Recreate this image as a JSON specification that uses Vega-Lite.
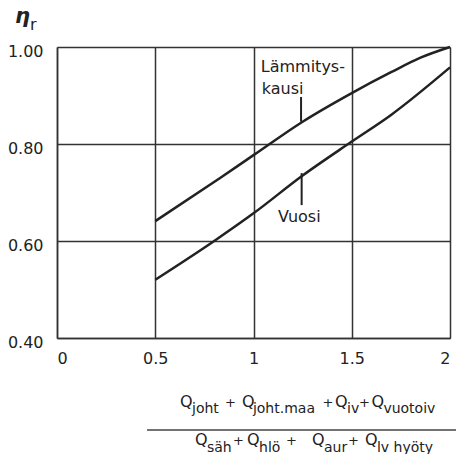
{
  "$schema": "https://vega.github.io/schema/vega-lite/v6.json",
  "width": 393,
  "height": 291,
  "autosize": "none",
  "padding": {"left": 57, "top": 47, "right": 6, "bottom": 116},
  "background": "white",
  "config": {
    "view": {"stroke": null},
    "axis": {
      "labelFont": "DejaVu Sans",
      "labelFontSize": 16,
      "labelColor": "#222",
      "ticks": false,
      "domainColor": "#333",
      "domainWidth": 1.5,
      "gridColor": "#333",
      "gridWidth": 1.5,
      "gridOpacity": 1,
      "title": null
    },
    "text": {"font": "DejaVu Sans", "color": "#222"}
  },
  "datasets": {
    "curves": [
      {"series": "Lämmityskausi", "x": 0.5, "y": 0.641},
      {"series": "Lämmityskausi", "x": 0.83, "y": 0.73},
      {"series": "Lämmityskausi", "x": 1.0, "y": 0.777},
      {"series": "Lämmityskausi", "x": 1.25, "y": 0.846},
      {"series": "Lämmityskausi", "x": 1.5, "y": 0.905},
      {"series": "Lämmityskausi", "x": 1.7, "y": 0.948},
      {"series": "Lämmityskausi", "x": 1.85, "y": 0.978},
      {"series": "Lämmityskausi", "x": 2.0, "y": 1.0},
      {"series": "Vuosi", "x": 0.5, "y": 0.52},
      {"series": "Vuosi", "x": 0.8, "y": 0.6},
      {"series": "Vuosi", "x": 1.0, "y": 0.657},
      {"series": "Vuosi", "x": 1.25, "y": 0.735},
      {"series": "Vuosi", "x": 1.5, "y": 0.805},
      {"series": "Vuosi", "x": 1.7, "y": 0.86},
      {"series": "Vuosi", "x": 2.0, "y": 0.958}
    ],
    "notes": [
      {"text": "Lämmitys-", "x": 1.037, "y": 0.949},
      {"text": "kausi", "x": 1.042, "y": 0.903},
      {"text": "Vuosi", "x": 1.125, "y": 0.64}
    ],
    "leaders": [
      {"x": 1.242, "y": 0.897, "y2": 0.846},
      {"x": 1.245, "y": 0.74, "y2": 0.674}
    ],
    "fracline": [
      {"x": 0.458, "x2": 2.1, "y": 0.2103}
    ],
    "symbol": [
      {"role": "main", "text": "η", "x": -0.214, "y": 1.049},
      {"role": "sub", "text": "r", "x": -0.137, "y": 1.035}
    ],
    "fraction": [
      {"role": "main", "text": "Q", "x": 0.626, "y": 0.2577},
      {"role": "sub", "text": "joht", "x": 0.687, "y": 0.2454},
      {"role": "op", "text": "+", "x": 0.883, "y": 0.2577},
      {"role": "main", "text": "Q", "x": 0.941, "y": 0.2577},
      {"role": "sub", "text": "joht.maa", "x": 0.997, "y": 0.2454},
      {"role": "op", "text": "+", "x": 1.379, "y": 0.2577},
      {"role": "main", "text": "Q", "x": 1.415, "y": 0.2577},
      {"role": "sub", "text": "iv", "x": 1.476, "y": 0.2454},
      {"role": "op", "text": "+", "x": 1.565, "y": 0.2577},
      {"role": "main", "text": "Q", "x": 1.6, "y": 0.2577},
      {"role": "sub", "text": "vuotoiv", "x": 1.661, "y": 0.2454},
      {"role": "main", "text": "Q", "x": 0.702, "y": 0.1794},
      {"role": "sub", "text": "säh", "x": 0.763, "y": 0.165},
      {"role": "op", "text": "+", "x": 0.924, "y": 0.1794},
      {"role": "main", "text": "Q", "x": 0.967, "y": 0.1794},
      {"role": "sub", "text": "hlö", "x": 1.028, "y": 0.165},
      {"role": "op", "text": "+", "x": 1.193, "y": 0.1794},
      {"role": "main", "text": "Q", "x": 1.298, "y": 0.1794},
      {"role": "sub", "text": "aur", "x": 1.359, "y": 0.165},
      {"role": "op", "text": "+", "x": 1.509, "y": 0.1794},
      {"role": "main", "text": "Q", "x": 1.567, "y": 0.1794},
      {"role": "sub", "text": "lv hyöty", "x": 1.628, "y": 0.165}
    ]
  },
  "layer": [
    {
      "data": {"name": "curves"},
      "mark": {"type": "line", "interpolate": "monotone", "color": "#222", "strokeWidth": 2.5},
      "encoding": {
        "x": {
          "field": "x", "type": "quantitative",
          "scale": {"domain": [0, 2], "nice": false, "zero": false},
          "axis": {"values": [0, 0.5, 1, 1.5, 2], "format": "~g", "labelPadding": 12, "grid": true}
        },
        "y": {
          "field": "y", "type": "quantitative",
          "scale": {"domain": [0.4, 1.0], "nice": false, "zero": false},
          "axis": {"values": [0.4, 0.6, 0.8, 1.0], "format": ".2f", "labelPadding": 14, "labelOffset": 4, "grid": true}
        },
        "detail": {"field": "series"}
      }
    },
    {
      "data": {"name": "leaders"},
      "mark": {"type": "rule", "color": "#222", "strokeWidth": 2},
      "encoding": {
        "x": {"field": "x", "type": "quantitative"},
        "y": {"field": "y", "type": "quantitative"},
        "y2": {"field": "y2"}
      }
    },
    {
      "data": {"name": "notes"},
      "mark": {"type": "text", "align": "left", "baseline": "alphabetic", "fontSize": 16},
      "encoding": {
        "x": {"field": "x", "type": "quantitative"},
        "y": {"field": "y", "type": "quantitative"},
        "text": {"field": "text"}
      }
    },
    {
      "data": {"name": "fracline"},
      "mark": {"type": "rule", "color": "#444", "strokeWidth": 1.5},
      "encoding": {
        "x": {"field": "x", "type": "quantitative"},
        "x2": {"field": "x2"},
        "y": {"field": "y", "type": "quantitative"}
      }
    },
    {
      "data": {"name": "fraction"},
      "transform": [{"filter": "datum.role === 'main'"}],
      "mark": {"type": "text", "align": "left", "baseline": "alphabetic", "fontSize": 16},
      "encoding": {
        "x": {"field": "x", "type": "quantitative"},
        "y": {"field": "y", "type": "quantitative"},
        "text": {"field": "text"}
      }
    },
    {
      "data": {"name": "fraction"},
      "transform": [{"filter": "datum.role === 'op'"}],
      "mark": {"type": "text", "align": "center", "baseline": "alphabetic", "fontSize": 13},
      "encoding": {
        "x": {"field": "x", "type": "quantitative"},
        "y": {"field": "y", "type": "quantitative"},
        "text": {"field": "text"}
      }
    },
    {
      "data": {"name": "fraction"},
      "transform": [{"filter": "datum.role === 'sub'"}],
      "mark": {"type": "text", "align": "left", "baseline": "alphabetic", "fontSize": 14},
      "encoding": {
        "x": {"field": "x", "type": "quantitative"},
        "y": {"field": "y", "type": "quantitative"},
        "text": {"field": "text"}
      }
    },
    {
      "data": {"name": "symbol"},
      "transform": [{"filter": "datum.role === 'main'"}],
      "mark": {"type": "text", "align": "left", "baseline": "alphabetic", "fontSize": 21, "fontWeight": "bold", "fontStyle": "italic"},
      "encoding": {
        "x": {"field": "x", "type": "quantitative"},
        "y": {"field": "y", "type": "quantitative"},
        "text": {"field": "text"}
      }
    },
    {
      "data": {"name": "symbol"},
      "transform": [{"filter": "datum.role === 'sub'"}],
      "mark": {"type": "text", "align": "left", "baseline": "alphabetic", "fontSize": 16},
      "encoding": {
        "x": {"field": "x", "type": "quantitative"},
        "y": {"field": "y", "type": "quantitative"},
        "text": {"field": "text"}
      }
    }
  ]
}
